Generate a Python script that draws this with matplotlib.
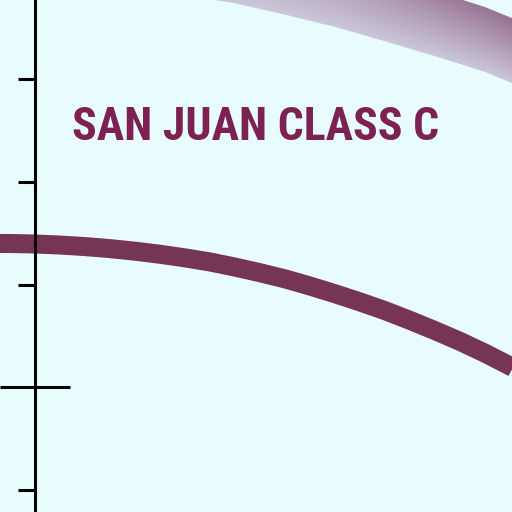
import numpy as np
import matplotlib
matplotlib.use("Agg")
import matplotlib.pyplot as plt
from matplotlib import font_manager as fm

# ---- data ----
x_main = [-0.5, -0.25, 0.0, 0.25, 0.5, 0.75, 1.0, 1.25, 1.5, 1.75, 2.0, 2.25,
          2.5, 2.75, 3.0, 3.25, 3.5, 3.75, 4.0, 4.25, 4.5, 4.75, 5.0]
y_main = [1.40, 1.40, 1.395, 1.385, 1.37, 1.35, 1.325, 1.295, 1.26, 1.22, 1.17, 1.115,
          1.055, 0.985, 0.91, 0.83, 0.745, 0.65, 0.55, 0.445, 0.33, 0.205, 0.07]

x_band = [1.0, 1.5, 2.0, 2.5, 3.0, 3.5, 4.0, 4.5, 5.0]
y_band = [4.20, 4.14, 4.06, 3.95, 3.83, 3.69, 3.545, 3.39, 3.19]
band_half = 0.317

major_ticks = [3, 2, 1, -1]
cross_tick = [0]
title = "SAN JUAN CLASS C"

BG = "#e9fcfd"
LINE = "#773555"
TEXT = "#7c2152"

# pick an available (preferably narrow) bold font
family = "DejaVu Sans"
for cand in ["Roboto Condensed", "Open Sans Condensed", "Liberation Sans Narrow",
             "Roboto", "Inter", "Lato"]:
    try:
        fm.findfont(fm.FontProperties(family=cand, weight="bold"), fallback_to_default=False)
        family = cand
        break
    except Exception:
        pass

fig = plt.figure(figsize=(5.12, 5.12), dpi=100)
fig.patch.set_facecolor(BG)
ax = fig.add_axes([0, 0, 1, 1])
ax.set_facecolor(BG)
ax.set_xlim(-0.35, 4.77)
ax.set_ylim(-1.2195, 3.7756)

# gradient band (top)
xb = np.array(x_band); yb = np.array(y_band)
poly = ax.fill_between(xb, yb - band_half, yb + band_half, color="none", lw=0)
nx, ny = 300, 300
gx = np.linspace(1.0, 5.0, nx)
gy = np.linspace(2.8, 4.6, ny)
GX, GY = np.meshgrid(gx, gy)
cen = np.interp(GX, xb, yb)
rel = np.clip((GY - (cen - band_half)) / (2 * band_half), 0, 1)  # 0 bottom, 1 top
fx = np.clip((GX - 1.8) / 3.0, 0, 1)
light = np.array([203, 199, 217]) / 255
dark = np.array([152, 115, 148]) / 255
t = np.clip(rel * (0.45 + 0.6 * fx), 0, 1)
img = light[None, None, :] * (1 - t[..., None]) + dark[None, None, :] * t[..., None]
im = ax.imshow(img, extent=(gx[0], gx[-1], gy[0], gy[-1]), origin="lower",
               aspect="auto", interpolation="bilinear", zorder=1)
im.set_clip_path(poly.get_paths()[0], transform=ax.transData)

# main line
ax.plot(x_main, y_main, color=LINE, lw=13.7, solid_capstyle="butt",
        solid_joinstyle="round", zorder=2)

# spines / ticks
for s in ["top", "right", "bottom"]:
    ax.spines[s].set_visible(False)
ax.spines["left"].set_position(("data", 0))
ax.spines["left"].set_linewidth(2.2)
ax.spines["left"].set_zorder(3)
ax.set_xticks([])
ax.set_yticks(major_ticks)
ax.set_yticks(cross_tick, minor=True)
ax.tick_params(axis="y", which="major", direction="out", length=12.2, width=2.2,
               labelleft=False, color="black")
ax.tick_params(axis="y", which="minor", direction="inout", length=50.4, width=2.2,
               labelleft=False, color="black")

txt = ax.text(0.37, 2.41, title, color=TEXT, fontsize=33, fontweight="bold",
              family=[family, "DejaVu Sans"], ha="left", va="baseline", zorder=4)
# fit text width to ~368 px
fig.canvas.draw()
w = txt.get_window_extent().width
target = 368.0
if w > target:
    txt.set_fontsize(33 * target / w)

fig.savefig("out.png", dpi=100, facecolor=BG)
